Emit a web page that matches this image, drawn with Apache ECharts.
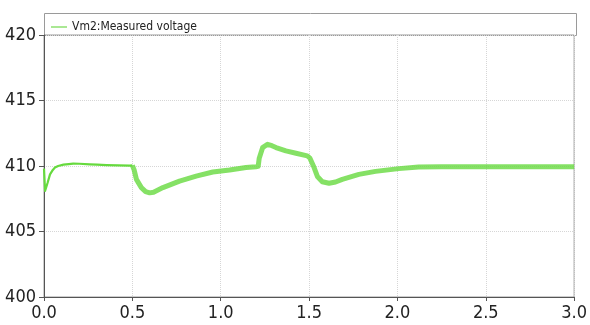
<!DOCTYPE html>
<html>
<head>
<meta charset="utf-8">
<script src="https://cdn.jsdelivr.net/npm/echarts@6/dist/echarts.min.js"></script>
<style>
html,body{margin:0;padding:0;background:#fff;}
#chart{width:590px;height:325px;}
</style>
</head>
<body>
<div id="chart"></div>
<script>
// Data
var seriesName = 'Vm2:Measured voltage';
var xTicks = [0, 0.5, 1.0, 1.5, 2.0, 2.5, 3.0];
var yTicks = [400, 405, 410, 415, 420];

// start-up segment (0 - 0.5 s), low ripple
var t1 = [0, 0.006, 0.012, 0.02, 0.034, 0.05, 0.062, 0.08, 0.11, 0.14, 0.165, 0.2, 0.26, 0.3, 0.354, 0.42, 0.485, 0.5];
var v1 = [409.8, 408.1, 408.2, 408.7, 409.36, 409.7, 409.88, 410.0, 410.1, 410.15, 410.18, 410.17, 410.13, 410.1, 410.07, 410.05, 410.03, 410.05];

// disturbed segment (0.5 - 3.0 s), visible ripple band
var t2 = [0.5, 0.51, 0.523, 0.551, 0.575, 0.598, 0.62, 0.673, 0.72, 0.767, 0.861, 0.955, 1.05, 1.143, 1.2, 1.212, 1.218, 1.237, 1.265, 1.29, 1.313, 1.369, 1.426, 1.49, 1.505, 1.528, 1.547, 1.575, 1.613, 1.65, 1.688, 1.782, 1.876, 2.008, 2.12, 2.25, 2.5, 2.75, 3.0];
var v2 = [410.05, 409.7, 408.98, 408.35, 408.05, 407.95, 408.0, 408.35, 408.6, 408.85, 409.23, 409.54, 409.69, 409.88, 409.95, 409.97, 410.6, 411.4, 411.66, 411.55, 411.41, 411.15, 410.97, 410.77, 410.6, 409.9, 409.2, 408.8, 408.68, 408.78, 408.98, 409.36, 409.59, 409.8, 409.92, 409.95, 409.95, 409.95, 409.95];

function pairs(t, v) { return t.map(function (x, i) { return [x, v[i]]; }); }

var green = '#66da3e';
var font = '"DejaVu Sans Condensed", "DejaVu Sans", sans-serif';

var chart = echarts.init(document.getElementById('chart'), null, {renderer: 'canvas'});
chart.setOption({
  animation: false,
  backgroundColor: '#fff',
  grid: {left: 44, right: 13, top: 35, bottom: 28, show: true, borderColor: '#9a9a9a', borderWidth: 1, backgroundColor: 'transparent'},
  legend: {
    left: 46, top: 16, itemWidth: 16, itemHeight: 1.5, icon: 'rect',
    data: [{name: seriesName, itemStyle: {color: '#8ee070'}}],
    textStyle: {fontFamily: font, fontSize: 12, color: '#222'},
    selectedMode: false
  },
  graphic: [{
    type: 'rect', silent: true, z: 0,
    shape: {x: 44.5, y: 13.5, width: 532, height: 22},
    style: {fill: 'none', stroke: '#9a9a9a', lineWidth: 1}
  }],
  xAxis: {
    type: 'value', min: xTicks[0], max: xTicks[xTicks.length - 1], interval: 0.5,
    axisLine: {show: true, onZero: false, lineStyle: {color: '#555', width: 1}},
    axisTick: {show: true, length: 4, lineStyle: {color: '#555'}},
    axisLabel: {margin: 7, fontFamily: font, fontSize: 18, color: '#222', formatter: function (v) { return v.toFixed(1); }},
    splitLine: {show: true, lineStyle: {color: '#d6d6d6', type: 'dotted', width: 1}}
  },
  yAxis: {
    type: 'value', min: yTicks[0], max: yTicks[yTicks.length - 1], interval: 5,
    axisLine: {show: true, lineStyle: {color: '#555', width: 1}},
    axisTick: {show: true, length: 5, lineStyle: {color: '#555'}},
    axisLabel: {margin: 8, fontFamily: font, fontSize: 18, color: '#222'},
    splitLine: {show: true, lineStyle: {color: '#d6d6d6', type: 'dotted', width: 1}}
  },
  series: [
    {name: seriesName, type: 'line', data: pairs(t1, v1), showSymbol: false, smooth: false,
     lineStyle: {color: green, width: 2.2, join: 'round'}, itemStyle: {color: green}},
    {name: seriesName, type: 'line', data: pairs(t2, v2), showSymbol: false, smooth: false,
     lineStyle: {color: green, width: 5, opacity: 0.8, join: 'round'}, itemStyle: {color: green}}
  ]
});
</script>
</body>
</html>
